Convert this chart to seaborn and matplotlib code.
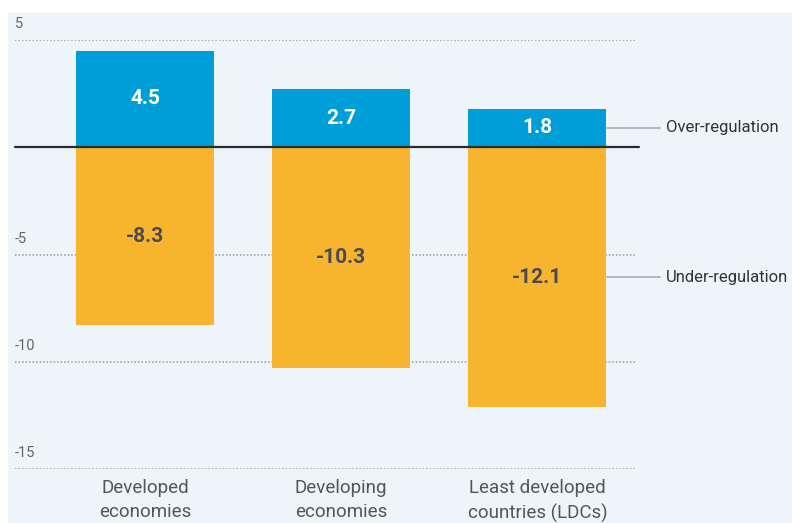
import matplotlib
matplotlib.use("Agg")
import matplotlib.pyplot as plt
import seaborn as sns
import pandas as pd
from matplotlib.patches import Rectangle

# Data
categories = ["Developed\neconomies", "Developing\neconomies", "Least developed\ncountries (LDCs)"]
over_regulation = [4.5, 2.7, 1.8]
under_regulation = [-8.3, -10.3, -12.1]
y_ticks = [5, -5, -10, -15]

BLUE = "#009ED9"
ORANGE = "#F6B42F"
BG = "#EDF4FA"
FONT = ["Liberation Sans Narrow", "Roboto", "DejaVu Sans"]

sns.set_style("white")
plt.rcParams["font.family"] = FONT

W, H = 792, 523
fig = plt.figure(figsize=(W / 100, H / 100), dpi=100)
fig.patch.set_facecolor("white")
fig.patches.append(Rectangle((8 / W, 0), 1, 1 - 13 / H, transform=fig.transFigure,
                             facecolor=BG, edgecolor="none", zorder=-10))

# axes spans from gridline at 5 (y=40px) to -15 (y=469px), x 15..636px
ax = fig.add_axes([15 / W, 1 - 469 / H, (636 - 15) / W, (469 - 40) / H])
ax.set_facecolor("none")

df = pd.DataFrame({"cat": categories, "over": over_regulation, "under": under_regulation})
sns.barplot(data=df, x="cat", y="over", color=BLUE, width=0.704, saturation=1,
            edgecolor="none", ax=ax, zorder=3)
sns.barplot(data=df, x="cat", y="under", color=ORANGE, width=0.704, saturation=1,
            edgecolor="none", ax=ax, zorder=3)

ax.set_xlim(-0.663, 2.503)
ax.set_ylim(-15, 5)

for t in y_ticks:
    ax.axhline(t, color="#9a9a9a", lw=1.1, ls=(0, (1, 1.3)), zorder=1)
    ax.text(-0.663, t + 0.4, str(t), ha="left", va="bottom", fontsize=10.5,
            color="#666666")
ax.plot([-0.663, 2.52], [0, 0], color="#2b2b2b", lw=1.6, zorder=4, clip_on=False)

for i, (o, u) in enumerate(zip(over_regulation, under_regulation)):
    ax.text(i, o / 2, f"{o}", ha="center", va="center", color="white",
            fontsize=15, fontweight="bold", zorder=5)
    ax.text(i, u / 2, f"{u}", ha="center", va="center", color="#4a4a55",
            fontsize=15, fontweight="bold", zorder=5)

# right side series labels
last = len(categories) - 1
for val, label in [(over_regulation[-1] / 2, "Over-regulation"),
                   (under_regulation[-1] / 2, "Under-regulation")]:
    ax.plot([last + 0.355, last + 0.625], [val, val], color="#a8adb3", lw=1.2,
            clip_on=False, zorder=2)
    ax.text(last + 0.655, val, label, ha="left", va="center", fontsize=12,
            color="#333333", clip_on=False)

ax.set_xlabel("")
ax.set_ylabel("")
ax.set_yticks([])
ax.set_xticks(range(len(categories)))
ax.set_xticklabels(categories, fontsize=13.5, color="#555555", linespacing=1.45)
ax.tick_params(axis="x", length=0, pad=7)
sns.despine(ax=ax, left=True, bottom=True)

fig.savefig("out.png", dpi=100, facecolor=fig.get_facecolor())
